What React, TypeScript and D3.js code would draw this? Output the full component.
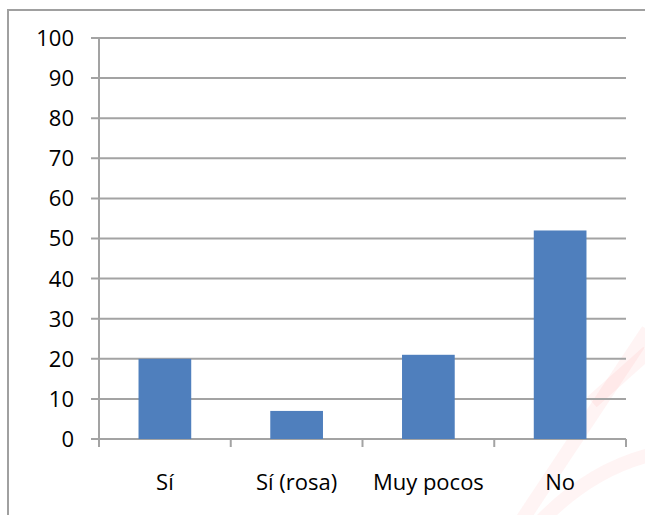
import React from "react";
import * as d3 from "d3";

const categories: string[] = ["Sí", "Sí (rosa)", "Muy pocos", "No"];
const values: number[] = [20, 7, 21, 52];
const yTicks: number[] = [0, 10, 20, 30, 40, 50, 60, 70, 80, 90, 100];

const W = 645;
const H = 515;
const left = 99;
const right = 626;
const top = 38;
const bottom = 439;

export default function App() {
  const y = d3.scaleLinear().domain([0, 100]).range([bottom, top]);
  const x = d3
    .scaleBand<string>()
    .domain(categories)
    .range([left, right])
    .paddingInner(0.6)
    .paddingOuter(0.3);
  const step = (right - left) / categories.length;
  const bounds = d3.range(categories.length + 1).map((i) => left + i * step);
  const grid = "#a3a3a3";
  const font = "'Open Sans', sans-serif";

  return (
    <svg
      width={W}
      height={H}
      style={{ position: "absolute", left: 0, top: 0, background: "#fff" }}
    >
      <rect x={0} y={0} width={W} height={H} fill="#fff" />
      {/* watermark */}
      <g fill="none" stroke="rgba(255,40,40,0.05)" strokeWidth={14}>
        <path d="M522,520 L648,330" />
        <path d="M592,402 L648,352" />
        <path d="M540,522 Q590,470 650,455" />
      </g>
      {/* frame */}
      <path d={`M8,${H + 5} L8,10 L${W + 5},10`} fill="none" stroke="#a0a0a0" strokeWidth={2} />
      {/* gridlines */}
      {yTicks.map((t) => (
        <line
          key={"g" + t}
          x1={left - 8}
          x2={right}
          y1={y(t)}
          y2={y(t)}
          stroke={grid}
          strokeWidth={2}
        />
      ))}
      {/* y axis */}
      <line x1={left} x2={left} y1={y(100) - 1} y2={bottom + 8} stroke={grid} strokeWidth={2} />
      {/* x ticks */}
      {bounds.map((b, i) => (
        <line key={"xt" + i} x1={b} x2={b} y1={bottom} y2={bottom + 8} stroke={grid} strokeWidth={2} />
      ))}
      {/* bars */}
      {categories.map((c, i) => (
        <rect
          key={c}
          x={x(c)!}
          y={y(values[i])}
          width={x.bandwidth()}
          height={y(0) - y(values[i])}
          fill="#4f7fbd"
        />
      ))}
      {/* y labels */}
      {yTicks.map((t) => (
        <text
          key={"yl" + t}
          x={74}
          y={y(t)}
          dy="0.36em"
          textAnchor="end"
          fontFamily={font}
          fontSize={22}
          fill="#000"
        >
          {t}
        </text>
      ))}
      {/* x labels */}
      {categories.map((c) => (
        <text
          key={"xl" + c}
          x={x(c)! + x.bandwidth() / 2}
          y={490}
          textAnchor="middle"
          fontFamily={font}
          fontSize={22}
          fill="#000"
        >
          {c}
        </text>
      ))}
    </svg>
  );
}
